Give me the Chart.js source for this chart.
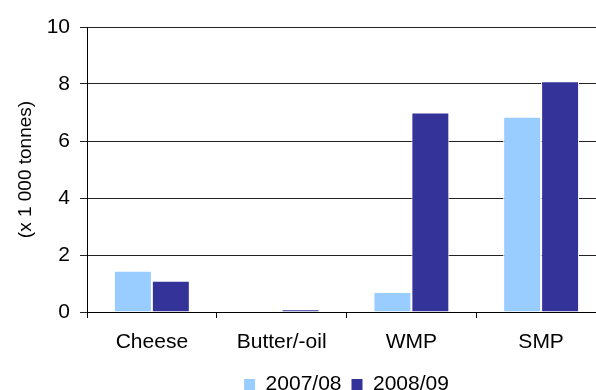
<!DOCTYPE html>
<html>
<head>
<meta charset="utf-8">
<script src="https://cdn.jsdelivr.net/npm/chart.js@4/dist/chart.umd.min.js"></script>
<style>
  html, body { margin: 0; padding: 0; background: #fff; overflow: hidden; }
  #wrap { width: 596px; height: 390px; overflow: hidden; position: relative; }
  canvas { display: block; }
</style>
</head>
<body>
<div id="wrap"><canvas id="c" width="606" height="405"></canvas></div>
<script>
// Dairy product volumes, thousand tonnes
const categories = ['Cheese', 'Butter/-oil', 'WMP', 'SMP'];
const seriesNames = ['2007/08', '2008/09'];
const values0708 = [1.45, 0, 0.7, 6.85];
const values0809 = [1.1, 0.1, 7.0, 8.1];
const yTicks = [0, 2, 4, 6, 8, 10];

const FONT = 'Liberation Sans, Arial, Helvetica, sans-serif';

// Centre the legend under the plot area rather than the whole canvas
const legendUnderPlot = {
  id: 'legendUnderPlot',
  afterLayout(chart) {
    const lg = chart.legend;
    if (!lg) return;
    const area = chart.chartArea;
    const shift = (area.left + area.right) / 2 - (lg.left + lg.right) / 2;
    lg.left += shift;
    lg.right += shift;
    if (lg.legendHitBoxes) lg.legendHitBoxes.forEach(b => { b.left += shift; });
  }
};

new Chart(document.getElementById('c'), {
  type: 'bar',
  data: {
    labels: categories,
    datasets: [
      { label: seriesNames[0], data: values0708, backgroundColor: '#99ccff', borderColor: '#ffffff', borderWidth: 1 },
      { label: seriesNames[1], data: values0809, backgroundColor: '#333399', borderColor: '#ffffff', borderWidth: 1 }
    ]
  },
  plugins: [legendUnderPlot],
  options: {
    responsive: false,
    animation: false,
    devicePixelRatio: 1,
    datasets: { bar: { categoryPercentage: 0.585, barPercentage: 1.0 } },
    layout: { padding: { top: 27, left: 0, right: 0, bottom: 0 } },
    plugins: {
      tooltip: { enabled: false },
      legend: {
        position: 'bottom',
        labels: {
          font: { family: FONT, size: 21 },
          color: '#000',
          boxWidth: 11,
          boxHeight: 11,
          padding: 10,
          generateLabels(chart) {
            return Chart.defaults.plugins.legend.labels.generateLabels(chart).map(l => {
              l.lineWidth = 0;
              l.strokeStyle = l.fillStyle;
              return l;
            });
          }
        }
      }
    },
    scales: {
      x: {
        grid: { display: true, drawOnChartArea: false, drawTicks: true, tickLength: 6, color: '#000', offset: true },
        border: { display: true, color: '#000', width: 1 },
        ticks: { font: { family: FONT, size: 21 }, color: '#000', padding: 12, maxRotation: 0 },
        afterFit(scale) { scale.height = 52; }
      },
      y: {
        min: 0,
        max: 10,
        afterBuildTicks(scale) { scale.ticks = yTicks.map(v => ({ value: v })); },
        grid: { color: '#222', tickLength: 7, drawTicks: true },
        border: { display: true, color: '#000', width: 1 },
        ticks: { font: { family: FONT, size: 21 }, color: '#000', padding: 10 },
        title: {
          display: true,
          text: '(x 1 000 tonnes)',
          font: { family: FONT, size: 19 },
          color: '#000',
          padding: { top: 14, bottom: 0 }
        },
        afterFit(scale) { scale.width = 87; }
      }
    }
  }
});
</script>
</body>
</html>
